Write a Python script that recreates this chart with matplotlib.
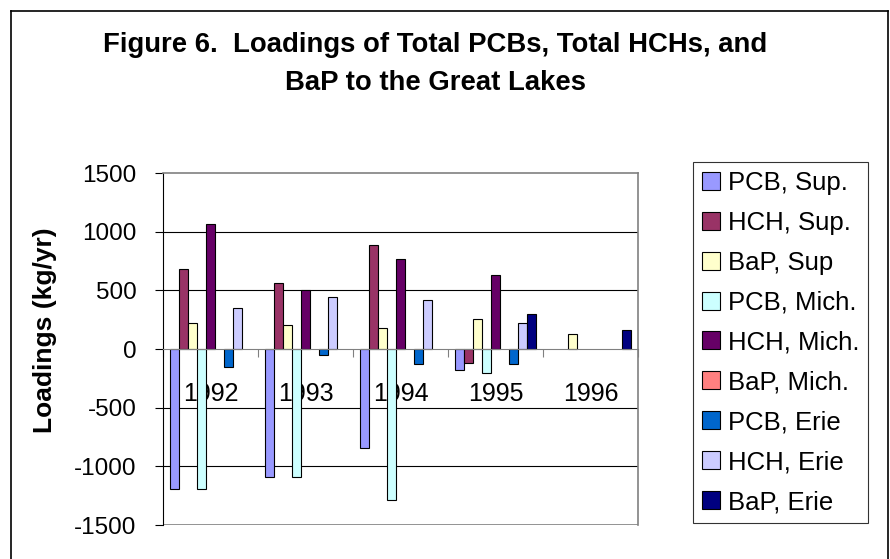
import numpy as np
import matplotlib.pyplot as plt
from matplotlib.lines import Line2D
from matplotlib.ticker import FixedLocator

plt.rcParams['font.family'] = ['Liberation Sans', 'DejaVu Sans']
plt.rcParams['axes.unicode_minus'] = False

years = ['1992', '1993', '1994', '1995', '1996']
series_names = ['PCB, Sup.', 'HCH, Sup.', 'BaP, Sup', 'PCB, Mich.', 'HCH, Mich.',
                'BaP, Mich.', 'PCB, Erie', 'HCH, Erie', 'BaP, Erie']
nan = np.nan
pcb_sup = [-1190, -1090, -845, -175, nan]
hch_sup = [680, 560, 885, -120, nan]
bap_sup = [225, 205, 175, 260, 130]
pcb_mich = [-1190, -1090, -1290, -205, nan]
hch_mich = [1065, 505, 770, 630, nan]
bap_mich = [nan, nan, nan, nan, nan]
pcb_erie = [-155, -55, -125, -125, nan]
hch_erie = [350, 445, 420, 220, nan]
bap_erie = [nan, nan, nan, 295, 165]

colors = ['#9999FF', '#993366', '#FFFFCC', '#CCFFFF', '#660066',
          '#FF8080', '#0066CC', '#CCCCFF', '#000080']

series = [pcb_sup, hch_sup, bap_sup, pcb_mich, hch_mich,
          bap_mich, pcb_erie, hch_erie, bap_erie]

fig = plt.figure(figsize=(8.9, 5.59), dpi=100)
ax = fig.add_axes([0.1831, 0.0608, 0.5337, 0.6297])

x = np.arange(len(years))
w = 0.0955
for i, (vals, name, c) in enumerate(zip(series, series_names, colors)):
    off = (i - 4) * w
    ax.bar(x + off, np.array(vals, dtype=float), w, color=c, edgecolor='black',
           linewidth=0.8, label=name, zorder=3)

ax.set_xlim(-0.5, len(years) - 0.5)
ax.set_ylim(-1500, 1500)
ax.set_yticks(np.arange(-1500, 1501, 500))
ax.tick_params(axis='y', direction='out', length=6, width=0.8, pad=13, labelsize=17.5)

# gridlines
for v in range(-1000, 1001, 500):
    if v != 0:
        ax.axhline(v, color='black', linewidth=0.8, zorder=1)
ax.axhline(-1500, color='#808080', linewidth=1.2, zorder=1)

# category axis sits at zero
ax.spines['bottom'].set_position(('data', 0))
ax.spines['bottom'].set_color('#808080')
ax.spines['bottom'].set_zorder(4)
ax.spines['top'].set_color('#808080')
ax.spines['top'].set_linewidth(1.2)
ax.spines['right'].set_color('#808080')
ax.spines['right'].set_linewidth(1.2)
ax.spines['left'].set_color('black')
ax.set_xticks(x)
ax.set_xticklabels(years)
ax.xaxis.set_minor_locator(FixedLocator(np.arange(-0.5, len(years), 1.0)))
ax.tick_params(axis='x', which='major', length=0, pad=24, labelsize=18)
ax.tick_params(axis='x', which='minor', direction='out', length=6, width=0.8, color='#808080')

fig.text(0.4888, 0.8864, 'Figure 6.  Loadings of Total PCBs, Total HCHs, and\nBaP to the Great Lakes',
         ha='center', va='center', fontsize=19.8, fontweight='bold', linespacing=1.6)
fig.text(45 / 890, 0.4097, 'Loadings (kg/yr)', rotation=90, ha='center', va='center',
         fontsize=19, fontweight='bold')

leg = ax.legend(loc='upper left', bbox_to_anchor=(693 / 890, 1 - 162 / 559),
                bbox_transform=fig.transFigure, fontsize=18.5, frameon=True,
                fancybox=False, edgecolor='black', borderpad=0.34,
                labelspacing=0.62, handlelength=0.7, handleheight=0.7,
                handletextpad=0.31, borderaxespad=0)
leg.get_frame().set_linewidth(0.8)

# outer chart border
bl, bt, br = 11 / 890, 1 - 11 / 559, 888 / 890
for xs, ys in [([bl, bl], [0, bt]), ([bl, br], [bt, bt]), ([br, br], [0, bt])]:
    fig.add_artist(Line2D(xs, ys, color='black', linewidth=1.2, transform=fig.transFigure))

plt.savefig('out.png', dpi=100)
